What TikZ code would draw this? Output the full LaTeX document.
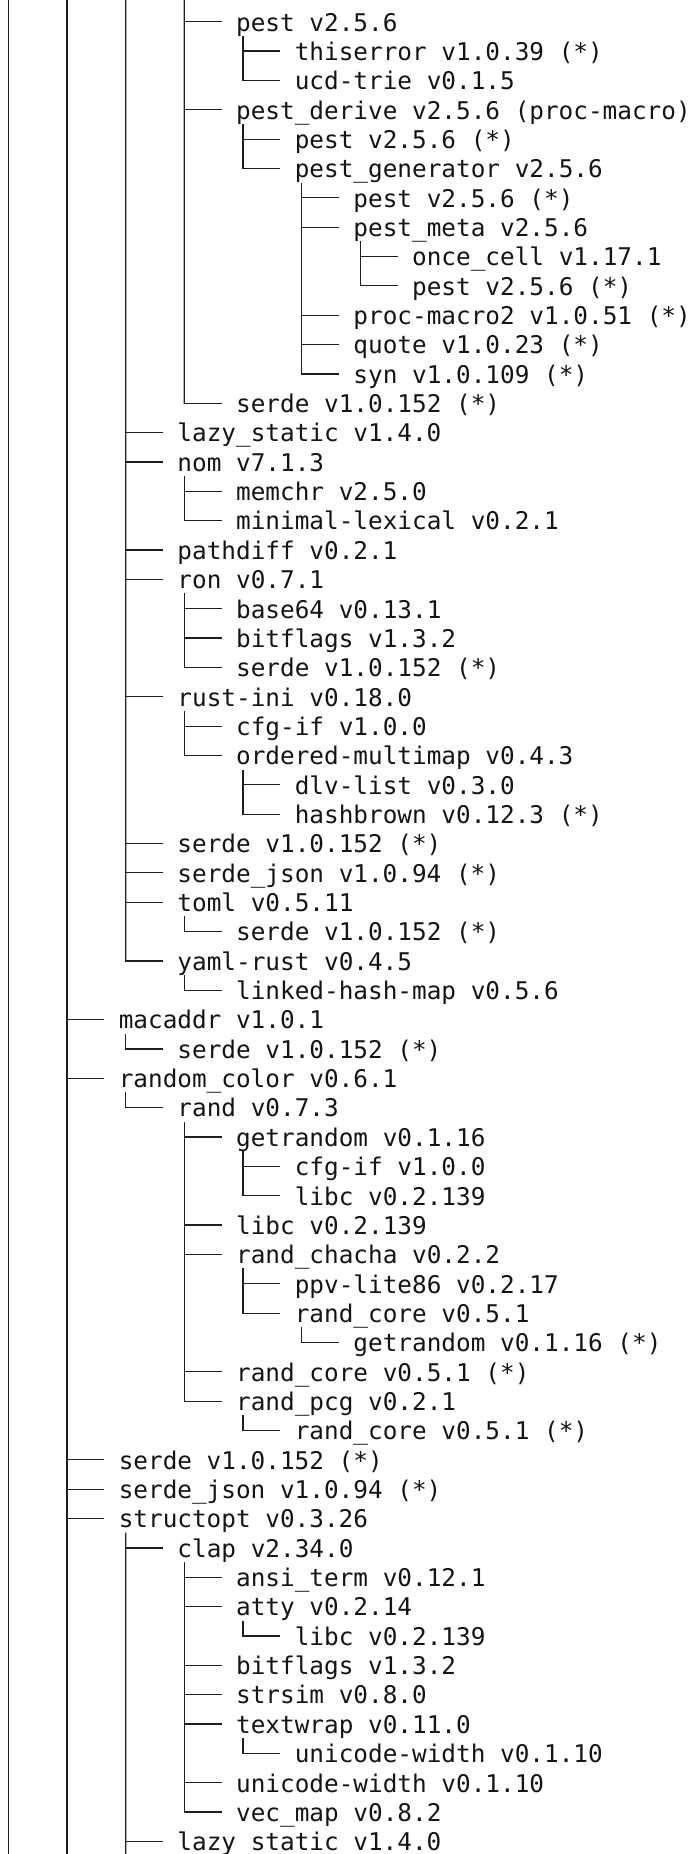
\documentclass[tikz,border=0pt]{standalone}
\usepackage{fontspec}
\newfontfamily\treemono{DejaVu Sans Mono}
\usetikzlibrary{calc}
\begin{document}
\begin{tikzpicture}[x=0.5pt,y=-0.5pt,
  tline/.style={line width=0.6pt, draw=black!88, line cap=rect},
  lbl/.style={font=\treemono\fontsize{12.18pt}{14pt}\selectfont, text=black!92,
    inner xsep=7.34pt, inner ysep=0pt, text height=12.3pt, text depth=3pt, anchor=west}]
\useasboundingbox (0,0) rectangle (690,1854);
\foreach \i/\l/\t in {
 1/3/{pest v2.5.6},
 2/4/{thiserror v1.0.39 (*)},
 3/4/{ucd-trie v0.1.5},
 4/3/{pest\_derive v2.5.6 (proc-macro)},
 5/4/{pest v2.5.6 (*)},
 6/4/{pest\_generator v2.5.6},
 7/5/{pest v2.5.6 (*)},
 8/5/{pest\_meta v2.5.6},
 9/6/{once\_cell v1.17.1},
 10/6/{pest v2.5.6 (*)},
 11/5/{proc-macro2 v1.0.51 (*)},
 12/5/{quote v1.0.23 (*)},
 13/5/{syn v1.0.109 (*)},
 14/3/{serde v1.0.152 (*)},
 15/2/{lazy\_static v1.4.0},
 16/2/{nom v7.1.3},
 17/3/{memchr v2.5.0},
 18/3/{minimal-lexical v0.2.1},
 19/2/{pathdiff v0.2.1},
 20/2/{ron v0.7.1},
 21/3/{base64 v0.13.1},
 22/3/{bitflags v1.3.2},
 23/3/{serde v1.0.152 (*)},
 24/2/{rust-ini v0.18.0},
 25/3/{cfg-if v1.0.0},
 26/3/{ordered-multimap v0.4.3},
 27/4/{dlv-list v0.3.0},
 28/4/{hashbrown v0.12.3 (*)},
 29/2/{serde v1.0.152 (*)},
 30/2/{serde\_json v1.0.94 (*)},
 31/2/{toml v0.5.11},
 32/3/{serde v1.0.152 (*)},
 33/2/{yaml-rust v0.4.5},
 34/3/{linked-hash-map v0.5.6},
 35/1/{macaddr v1.0.1},
 36/2/{serde v1.0.152 (*)},
 37/1/{random\_color v0.6.1},
 38/2/{rand v0.7.3},
 39/3/{getrandom v0.1.16},
 40/4/{cfg-if v1.0.0},
 41/4/{libc v0.2.139},
 42/3/{libc v0.2.139},
 43/3/{rand\_chacha v0.2.2},
 44/4/{ppv-lite86 v0.2.17},
 45/4/{rand\_core v0.5.1},
 46/5/{getrandom v0.1.16 (*)},
 47/3/{rand\_core v0.5.1 (*)},
 48/3/{rand\_pcg v0.2.1},
 49/4/{rand\_core v0.5.1 (*)},
 50/1/{serde v1.0.152 (*)},
 51/1/{serde\_json v1.0.94 (*)},
 52/1/{structopt v0.3.26},
 53/2/{clap v2.34.0},
 54/3/{ansi\_term v0.12.1},
 55/3/{atty v0.2.14},
 56/4/{libc v0.2.139},
 57/3/{bitflags v1.3.2},
 58/3/{strsim v0.8.0},
 59/3/{textwrap v0.11.0},
 60/4/{unicode-width v0.1.10},
 61/3/{unicode-width v0.1.10},
 62/3/{vec\_map v0.8.2},
 63/2/{lazy\_static v1.4.0}}{
  \pgfmathsetmacro\xx{8.3+58.68*\l}
  \pgfmathsetmacro\yy{21.7+29.35*(\i-1)}
  \pgfmathsetmacro\yu{\yy-14.675}
  \pgfmathsetmacro\xt{\xx+36.7}
  \coordinate (b\i) at (\xx,\yy);
  \coordinate (u\i) at (\xx,\yu);
  \node[lbl] (t\i) at (\xt,\yy) {\t};
  \draw[tline] (b\i) -- (t\i.west);
}
% free ends of the guide lines that run past the picture
\coordinate (top0) at (8.3,0);      \coordinate (bot0) at (8.3,1854);
\coordinate (top1) at (66.98,0);    \coordinate (bot1) at (66.98,1854);
\coordinate (top2) at (125.66,0);   \coordinate (bot2) at (125.66,1854);
\coordinate (top3) at (184.34,0);
% level 0 and 1
\draw[tline] (top0) -- (bot0);
\draw[tline] (top1) -- (bot1);
% level 2
\draw[tline] (top2) -- (b33);
\draw[tline] (u36) -- (b36);
\draw[tline] (u38) -- (b38);
\draw[tline] (u53) -- (bot2);
% level 3
\draw[tline] (top3) -- (b14);
\draw[tline] (u17) -- (b18);
\draw[tline] (u21) -- (b23);
\draw[tline] (u25) -- (b26);
\draw[tline] (u32) -- (b32);
\draw[tline] (u34) -- (b34);
\draw[tline] (u39) -- (b48);
\draw[tline] (u54) -- (b62);
% level 4
\draw[tline] (u2) -- (b3);
\draw[tline] (u5) -- (b6);
\draw[tline] (u27) -- (b28);
\draw[tline] (u40) -- (b41);
\draw[tline] (u44) -- (b45);
\draw[tline] (u49) -- (b49);
\draw[tline] (u56) -- (b56);
\draw[tline] (u60) -- (b60);
% level 5
\draw[tline] (u7) -- (b13);
\draw[tline] (u46) -- (b46);
% level 6
\draw[tline] (u9) -- (b10);
\end{tikzpicture}
\end{document}
